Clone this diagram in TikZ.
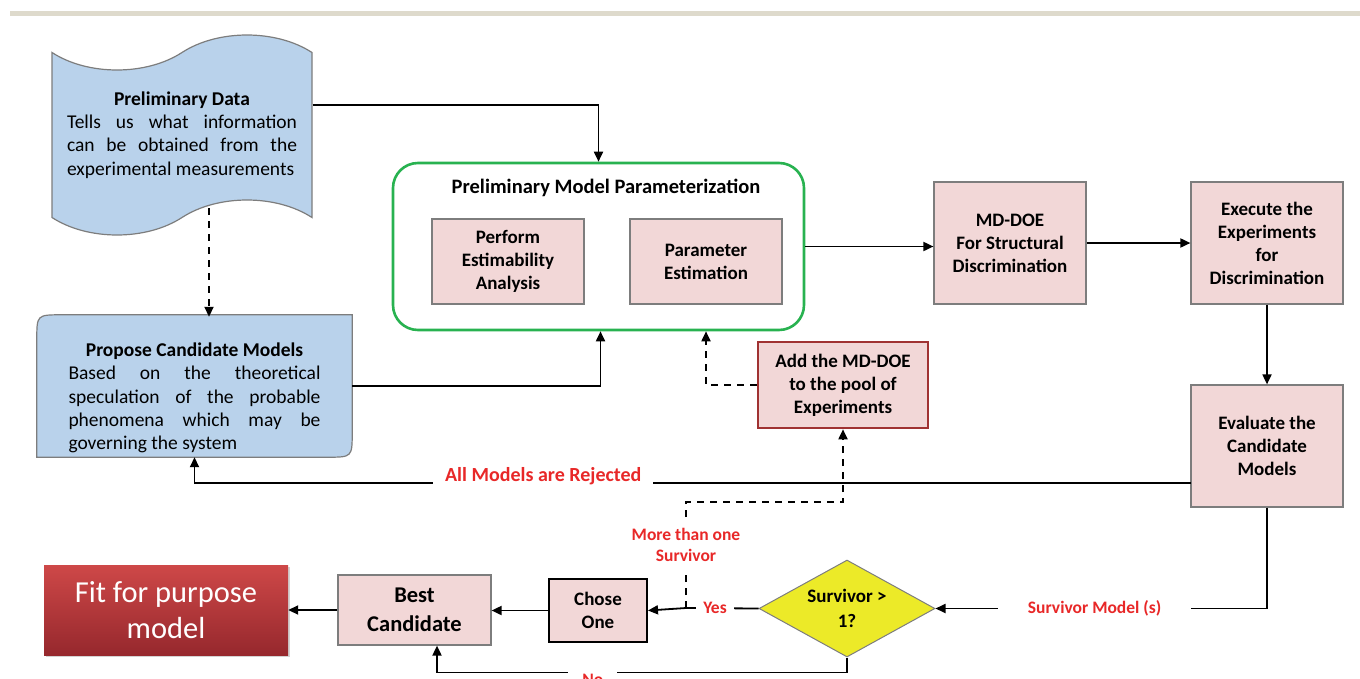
\documentclass[tikz,border=0pt]{standalone}
\usepackage{fontspec}
\setmainfont{Carlito}
\usetikzlibrary{arrows.meta,shapes.geometric,shapes.symbols,shadows,backgrounds}

\definecolor{boxpink}{RGB}{242,215,215}
\definecolor{boxblue}{RGB}{185,210,235}
\definecolor{boxgrey}{RGB}{125,125,125}
\definecolor{groupgreen}{RGB}{40,178,80}
\definecolor{labelred}{RGB}{232,40,40}
\definecolor{addred}{RGB}{160,50,50}
\definecolor{dieyellow}{RGB}{236,234,40}
\definecolor{topline}{RGB}{222,218,204}

\tikzset{
  flow/.style={line width=1.8pt, -{Triangle[length=10pt,width=9pt]}},
  dashflow/.style={flow, dash pattern=on 7pt off 6pt},
  pinkbox/.style={draw=boxgrey, fill=boxpink, line width=1.2pt, align=center,
    inner sep=0pt, font=\fontsize{19}{23}\selectfont\bfseries},
  bluetext/.style={inner sep=0pt, align=justify, font=\fontsize{19.5}{23.3}\selectfont},
  redlabel/.style={text=labelred, fill=white, align=center,
    font=\fontsize{17.5}{21}\selectfont\bfseries},
}

\begin{document}
\begin{tikzpicture}[x=1pt,y=-1pt]
\useasboundingbox (0,0) rectangle (1360,678);
\draw[topline, line width=5pt] (10,13) -- (1360,13);

% data and candidate models
\node[shape=tape, tape bend top=in and out, tape bend bottom=in and out,
  tape bend height=35pt, minimum width=260pt, minimum height=200pt,
  draw=boxgrey, fill=boxblue, line width=1.2pt, bluetext, text width=230pt]
  (data) at (182,135) {\centerline{\bfseries Preliminary Data}
  Tells us what information\linebreak can be obtained from the\linebreak experimental measurements};
\node[bluetext, text width=252pt, minimum width=315pt, minimum height=142pt]
  (prop) at (194.5,398) {\centerline{\bfseries Propose Candidate Models}
  Based on the theoretical\linebreak speculation of the probable\linebreak phenomena which may be\linebreak governing the system};
\begin{scope}[on background layer]
\draw[draw=boxgrey, fill=boxblue, line width=1.2pt]
  ([yshift=12pt]prop.south west) -- ([yshift=-13pt]prop.north west)
  .. controls ([yshift=12pt]prop.north west) .. ([xshift=25pt,yshift=12pt]prop.north west)
  -- ([yshift=12pt]prop.north east) -- ([yshift=37pt]prop.south east)
  .. controls ([yshift=12pt]prop.south east) .. ([xshift=-25pt,yshift=12pt]prop.south east)
  -- cycle;
\end{scope}

% parameterization group
\node[draw=groupgreen, line width=2.6pt, rounded corners=25pt,
  minimum width=411pt, minimum height=167pt] (pmp) at (598.5,246.5) {};
\node[font=\fontsize{20.5}{23}\selectfont\bfseries] (pmptitle) at (606,188) {Preliminary Model Parameterization};
\node[pinkbox, minimum width=152pt, minimum height=85pt] (pea) at (508,261.5) {Perform\\Estimability\\Analysis};
\node[pinkbox, minimum width=152pt, minimum height=85pt] (pe) at (706,261.5) {Parameter\\Estimation};

% discrimination
\node[pinkbox, minimum width=152pt, minimum height=122pt] (mddoe) at (1010,243) {MD-DOE\\For Structural\\Discrimination};
\node[pinkbox, minimum width=152pt, minimum height=122pt] (exec) at (1267,243) {Execute the\\Experiments\\for\\Discrimination};
\node[pinkbox, minimum width=152pt, minimum height=122pt] (eval) at (1267,446) {Evaluate the\\Candidate\\Models};
\node[pinkbox, draw=addred, line width=2.6pt, minimum width=170pt, minimum height=86pt] (add) at (843,385) {Add the MD-DOE\\to the pool of\\Experiments};

% decision
\node[shape=diamond, draw=boxgrey, fill=dieyellow, line width=1pt, inner sep=0pt,
  minimum width=176pt, minimum height=97pt] (dia) at (847,608.5) {};
\node[align=center, font=\fontsize{19}{25}\selectfont\bfseries] (diatext) at (dia) {Survivor >\\1?};
\node[pinkbox, draw=black, line width=2pt, minimum width=98pt, minimum height=63pt] (chose) at (598,610.5) {Chose\\One};
\node[pinkbox, minimum width=153pt, minimum height=70pt,
  font=\fontsize{22.5}{29}\selectfont\bfseries] (best) at (414.5,610) {Best\\Candidate};
\node[top color={rgb,255:red,206;green,72;blue,72}, bottom color={rgb,255:red,150;green,40;blue,45},
  drop shadow={opacity=0.35}, text=white, align=center, minimum width=244pt, minimum height=90pt,
  font=\fontsize{30.5}{36}\selectfont] (fit) at (166,610) {Fit for purpose\\model};

% connectors
\draw[flow] ([yshift=30pt]data.east) -| (pmp.north);
\draw[dashflow] ([xshift=27pt,yshift=10pt]data.south) -- ([xshift=27pt,yshift=10pt]data.south |- prop.north);
\draw[flow] ([yshift=12pt]prop.east) -| ([xshift=2pt]pmp.south);
\draw[flow] (pmp.east) -- (pmp.east -| mddoe.west);
\draw[flow] (mddoe.east) -- (exec.west);
\draw[flow] (exec.south) -- (eval.north);
\draw[dashflow] (add.west) -| (pe.south |- pmp.south);
\coordinate (rej) at (1191,483);
\draw[flow] (rej) -| ([yshift=12pt]prop.south)
  node[redlabel, pos=0.325, yshift=7pt, inner xsep=12pt, font=\fontsize{20}{23}\selectfont\bfseries] {All Models are Rejected};
\draw[flow] (eval.south) |- (dia.east)
  node[redlabel, pos=0.76, inner xsep=30pt] {Survivor Model (s)};
\coordinate (yes) at (686,608);
\draw[line width=1.8pt] (dia.west) -- (yes)
  node[redlabel, pos=0.6, inner xsep=7pt] {Yes};
\draw[flow] (yes) -- (chose.east);
\draw[dashflow] (yes) -- (686,502) -| (add.south)
  node[redlabel, pos=0, yshift=-43pt, inner ysep=9pt] {More than one\\Survivor};
\draw[flow] (dia.south) -- ++(0,15) -| ([xshift=22.5pt]best.south)
  node[redlabel, pos=0.31, anchor=north, yshift=3pt, inner xsep=14pt] {No};
\draw[flow] (chose.west) -- (chose.west -| best.east);
\draw[flow] (best.west) -- (best.west -| fit.east);
\end{tikzpicture}
\end{document}
